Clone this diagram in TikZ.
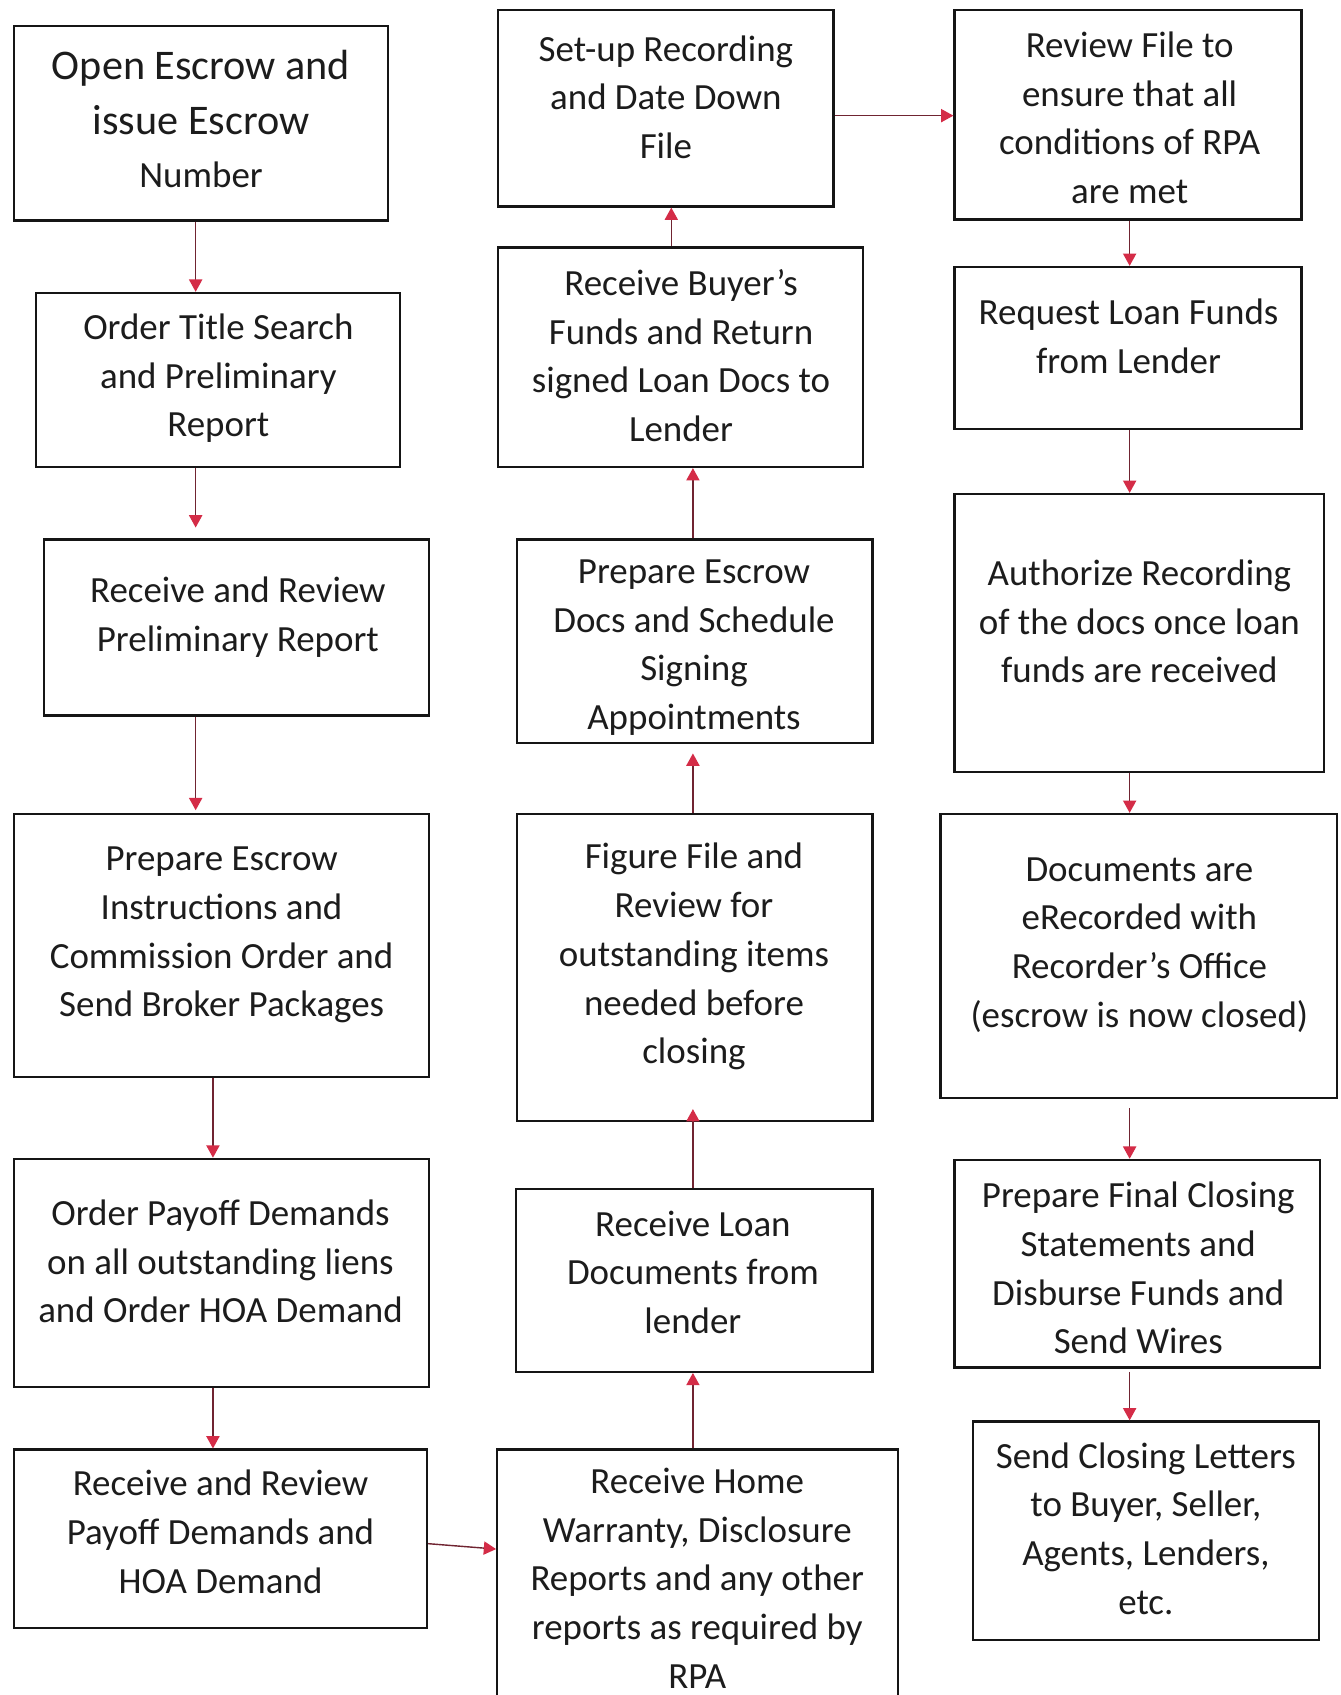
\documentclass[tikz,border=0pt]{standalone}
\usepackage{fontspec}
\setmainfont{Carlito}
\usetikzlibrary{arrows.meta,fit}
\definecolor{boxline}{HTML}{151515}
\definecolor{txt}{HTML}{1C1C1C}
\definecolor{arrline}{HTML}{702431}
\definecolor{arrhead}{HTML}{D42C47}
\tikzset{
  box/.style={draw=boxline, line width=1.3pt, inner sep=0pt, rectangle},
  lbl/.style={align=center, text=txt, inner sep=0pt, font=\fontsize{21}{27.7}\selectfont},
  arr/.style={draw=arrline, line width=0.8pt, -{Triangle[width=7.5pt,length=7pt,color=arrhead]}},
}
\begin{document}
\begin{tikzpicture}[x=0.021613cm, y=-0.021613cm]
\clip (0,0) rectangle (1240,1568);
\fill[white] (0,0) rectangle (1240,1568);
% boxes column 1
\node[box, fit={(13,24) (359,204)}] (A) {};
\node[box, fit={(33,271) (370,432)}] (B) {};
\node[box, fit={(41,499) (397,662)}] (C) {};
\node[box, fit={(13,753) (397,996)}] (D) {};
\node[box, fit={(13,1072) (397,1283)}] (E) {};
\node[box, fit={(13,1341) (395,1506)}] (F) {};
% column 2
\node[box, fit={(461,9) (771,191)}] (G) {};
\node[box, fit={(461,229) (798,432)}] (H) {};
\node[box, fit={(478,499) (807,687)}] (I) {};
\node[box, fit={(478,753) (807,1037)}] (J) {};
\node[box, fit={(477,1100) (807,1269)}] (K) {};
\node[box, fit={(460,1341) (831,1585)}] (L) {};
% column 3
\node[box, fit={(883,9) (1204,203)}] (M) {};
\node[box, fit={(883,247) (1204,397)}] (N) {};
\node[box, fit={(883,457) (1225,714)}] (O) {};
\node[box, fit={(870,753) (1237,1016)}] (P) {};
\node[box, fit={(883,1073) (1221,1265)}] (Q) {};
\node[box, fit={(900,1315) (1220,1517)}] (R) {};
% texts
\node[lbl, font=\fontsize{24}{31.4}\selectfont] (tA) at (186,110) {Open Escrow and\\issue Escrow\\[-1.3pt]{\fontsize{21}{27.7}\selectfont Number}};
\node[lbl] (tB) at (202,350) {Order Title Search\\and Preliminary\\Report};
\node[lbl] (tC) at (220,571) {Receive and Review\\Preliminary Report};
\node[lbl] (tD) at (205,865) {Prepare Escrow\\Instructions and\\Commission Order and\\Send Broker Packages};
\node[lbl] (tE) at (204,1167) {Order Payoff Demands\\on all outstanding liens\\and Order HOA Demand};
\node[lbl] (tF) at (204,1417) {Receive and Review\\Payoff Demands and\\HOA Demand};
\node[lbl] (tG) at (616,90) {Set-up Recording\\and Date Down\\File};
\node[lbl] (tH) at (630,329) {Receive Buyer’s\\Funds and Return\\signed Loan Docs to\\Lender};
\node[lbl] (tI) at (642,599) {Prepare Escrow\\Docs and Schedule\\Signing\\Appointments};
\node[lbl] (tJ) at (642,885) {Figure File and\\Review for\\outstanding items\\needed before\\closing};
\node[lbl] (tK) at (641,1177) {Receive Loan\\Documents from\\lender};
\node[lbl] (tL) at (645,1460) {Receive Home\\Warranty, Disclosure\\Reports and any other\\reports as required by\\RPA};
\node[lbl] (tM) at (1045,109) {Review File to\\ensure that all\\conditions of RPA\\are met};
\node[lbl] (tN) at (1044,311) {Request Loan Funds\\from Lender};
\node[lbl] (tO) at (1054,575) {Authorize Recording\\of the docs once loan\\funds are received};
\node[lbl] (tP) at (1054,874) {Documents are\\eRecorded with\\Recorder’s Office\\(escrow is now closed)};
\node[lbl] (tQ) at (1053,1173) {Prepare Final Closing\\Statements and\\Disburse Funds and\\Send Wires};
\node[lbl] (tR) at (1060,1414) {Send Closing Letters\\to Buyer, Seller,\\Agents, Lenders,\\etc.};
% connector x/y references
\coordinate (c1) at (181,0);
\coordinate (c2) at (197,0);
\coordinate (c3) at (641,0);
\coordinate (c4) at (621,0);
\coordinate (c5) at (1045,0);
\coordinate (y1) at (0,1428);
\coordinate (y2) at (0,1433);
\coordinate (y3) at (0,107);
% connectors
\draw[arr] (A.south -| c1) -- (B.north -| c1);
\draw[arr, shorten >=6.1pt] (B.south -| c1) -- (C.north -| c1);
\draw[arr, shorten >=1.5pt] (C.south -| c1) -- (D.north -| c1);
\draw[arr] (D.south -| c2) -- (E.north -| c2);
\draw[arr] (E.south -| c2) -- (F.north -| c2);
\draw[arr] (F.east |- y1) -- (L.west |- y2);
\draw[arr] (L.north -| c3) -- (K.south -| c3);
\draw[arr, shorten >=-7.4pt] (K.north -| c3) -- (J.south -| c3);
\draw[arr, shorten >=5.5pt] (J.north -| c3) -- (I.south -| c3);
\draw[arr] (I.north -| c3) -- (H.south -| c3);
\draw[arr] (H.north -| c4) -- (G.south -| c4);
\draw[arr] (G.east |- y3) -- (M.west |- y3);
\draw[arr] (M.south -| c5) -- (N.north -| c5);
\draw[arr] (N.south -| c5) -- (O.north -| c5);
\draw[arr] (O.south -| c5) -- (P.north -| c5);
\draw[arr, shorten <=4.9pt] (P.south -| c5) -- (Q.north -| c5);
\draw[arr, shorten <=1.8pt] (Q.south -| c5) -- (R.north -| c5);
\end{tikzpicture}
\end{document}
